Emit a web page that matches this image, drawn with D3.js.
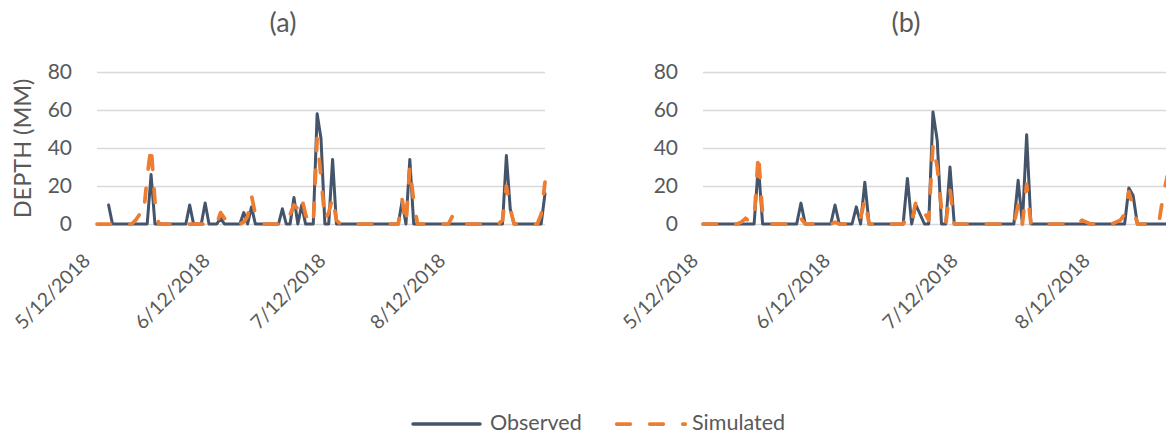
<!DOCTYPE html>
<html><head><meta charset="utf-8">
<script src="https://cdn.jsdelivr.net/npm/d3@7"></script>
<style>
html,body{margin:0;padding:0;background:#fff;overflow:hidden;}
svg{display:block;font-family:Lato,"Open Sans",sans-serif;}
</style></head><body>
<svg id="chart" width="1166" height="437"></svg>
<script>
// ---------- data ----------
const startDate = "5/12/2018";
const endDate = "9/5/2018";
const xTickLabels = ["5/12/2018", "6/12/2018", "7/12/2018", "8/12/2018"];
const yTicks = [0, 20, 40, 60, 80];
const panelTitles = ["(a)", "(b)"];
const seriesNames = ["Observed", "Simulated"];
const yAxisTitle = "DEPTH (MM)";

// daily values starting 5/12/2018
const observedA = [
  null,null,null,10,0,0,0,0,0,0,
  0,0,0,0,26,0,0,0,0,0,
  0,0,0,0,10,0,0,0,11,0,
  0,0,3,0,0,0,0,0,6,0,
  9,0,0,0,0,0,0,0,8,0,
  0,14,0,10,0,0,0,58,45,0,
  0,34,0,0,0,0,0,0,0,0,
  0,0,0,0,0,0,0,0,0,12,
  0,34,0,0,0,0,0,0,0,0,
  0,0,0,0,0,0,0,0,0,0,
  0,0,0,0,0,0,36,8,0,0,
  0,0,0,0,0,0,16
];
const simulatedA = [
  0,0,0,0,0,0,0,0,0,0,
  2,5,4,25,41,12,0,0,0,0,
  0,0,0,0,0,0,0,0,0,0,
  0,0,6,3,0,0,0,0,1,4,
  15,5,0,0,0,0,0,0,0,0,
  5,10,8,14,5,0,0,45,25,2,
  6,14,2,0,0,0,0,0,0,0,
  0,0,0,0,1,0,0,0,0,13,
  0,30,12,0,0,0,0,0,0,0,
  0,0,4,4,0,0,0,0,0,0,
  0,0,0,0,0,2,20,8,0,0,
  0,0,0,0,0,5,22
];
const observedB = [
  0,0,0,0,0,0,0,0,0,0,
  0,0,0,31,0,0,0,0,0,0,
  0,0,0,11,0,0,0,0,0,0,
  0,10,0,0,0,0,9,0,22,0,
  0,0,0,0,0,0,0,0,24,0,
  10,5,0,0,59,44,0,0,30,0,
  0,0,0,0,0,0,0,0,0,0,
  0,0,0,0,23,0,47,0,0,0,
  0,0,0,0,0,0,0,0,0,0,
  0,0,0,0,0,0,0,0,0,0,
  19,15,0,0,0,0,0,0,0,0
];
const simulatedB = [
  0,0,0,0,0,0,0,0,0,1,
  3,1,2,37,5,0,0,0,0,0,
  0,0,0,3,0,0,0,0,0,0,
  0,1,0,0,0,0,0,3,13,0,
  0,0,0,0,0,0,0,0,4,1,
  12,10,6,2,42,30,8,0,18,0,
  0,0,0,0,0,0,0,0,0,0,
  0,0,0,0,10,0,21,0,0,0,
  0,0,0,0,0,0,0,0,0,2,
  1,0,0,0,0,0,0,1,2,5,
  17,9,0,0,0,0,0,0,14,25
];

// ---------- layout / style ----------
const yTop = 72, yBottom = 224;
const panels = [
  {x0: 97, x1: 545, titleX: 283, obs: observedA, sim: simulatedA, title: panelTitles[0], labelShift: -6},
  {x0: 703, x1: 1197, titleX: 906, obs: observedB, sim: simulatedB, title: panelTitles[1], labelShift: -4}
];
const textColor = "#595959";
const gridColor = "#d9d9d9";
const obsColor = "#44546A";
const simColor = "#ED7D31";
const obsWidth = 3;
const simWidth = 3.75;
const simDash = "13.5,19.5";

const parse = d3.utcParse("%m/%d/%Y");
const start = parse(startDate), end = parse(endDate);
const svg = d3.select("#chart");

const y = d3.scaleLinear().domain([0, 80]).range([yBottom, yTop]);

panels.forEach(P => {
  const g = svg.append("g");
  const x = d3.scaleUtc().domain([start, end]).range([P.x0, P.x1]);

  // gridlines + y labels
  const ya = g.append("g").attr("transform", `translate(${P.x0},0)`)
    .call(d3.axisLeft(y).tickValues(yTicks).tickSize(-(P.x1 - P.x0)).tickPadding(25));
  ya.select(".domain").remove();
  ya.selectAll(".tick line").attr("stroke", gridColor).attr("stroke-width", 1.3);
  ya.selectAll(".tick text").attr("fill", textColor).attr("font-size", 21)
    .attr("font-family", "Lato");

  // x labels
  const xa = g.append("g").attr("transform", `translate(0,${yBottom})`)
    .call(d3.axisBottom(x).tickValues(xTickLabels.map(parse)).tickSize(0)
      .tickFormat((d, i) => xTickLabels[i]));
  xa.select(".domain").remove();
  xa.selectAll(".tick text")
    .attr("fill", textColor).attr("font-size", 19.5).attr("font-family", "Lato")
    .attr("y", 0).attr("dy", 0)
    .attr("text-anchor", "end")
    .attr("transform", `translate(${P.labelShift},38) rotate(-45)`);

  const toPts = arr => arr.map((v, i) => ({date: d3.utcDay.offset(start, i), v}));
  const line = d3.line().defined(d => d.v != null).x(d => x(d.date)).y(d => y(d.v));

  g.append("path").datum(toPts(P.obs)).attr("d", line)
    .attr("fill", "none").attr("stroke", obsColor).attr("stroke-width", obsWidth)
    .attr("stroke-linejoin", "round").attr("stroke-linecap", "round");
  g.append("path").datum(toPts(P.sim)).attr("d", line)
    .attr("fill", "none").attr("stroke", simColor).attr("stroke-width", simWidth)
    .attr("stroke-dasharray", simDash)
    .attr("stroke-linejoin", "round").attr("stroke-linecap", "round");

  g.append("text").attr("x", P.titleX).attr("y", 32).attr("text-anchor", "middle")
    .attr("fill", textColor).attr("font-size", 27).text(P.title);
});

// y axis title (left panel)
svg.append("text").attr("transform", "translate(31,148.5) rotate(-90)")
  .attr("text-anchor", "middle").attr("fill", textColor).attr("font-size", 23.5)
  .text(yAxisTitle);

// legend
const lg = svg.append("g");
lg.append("line").attr("x1", 413).attr("x2", 480).attr("y1", 424).attr("y2", 424)
  .attr("stroke", obsColor).attr("stroke-width", obsWidth + 0.5).attr("stroke-linecap", "round");
lg.append("text").attr("x", 490).attr("y", 430).attr("fill", textColor).attr("font-size", 21.5)
  .text(seriesNames[0]);
lg.append("line").attr("x1", 616.75).attr("x2", 685.25).attr("y1", 424).attr("y2", 424)
  .attr("stroke", simColor).attr("stroke-width", simWidth).attr("stroke-dasharray", simDash)
  .attr("stroke-linecap", "round");
lg.append("text").attr("x", 692).attr("y", 430).attr("fill", textColor).attr("font-size", 21.5)
  .text(seriesNames[1]);
</script>
</body></html>
